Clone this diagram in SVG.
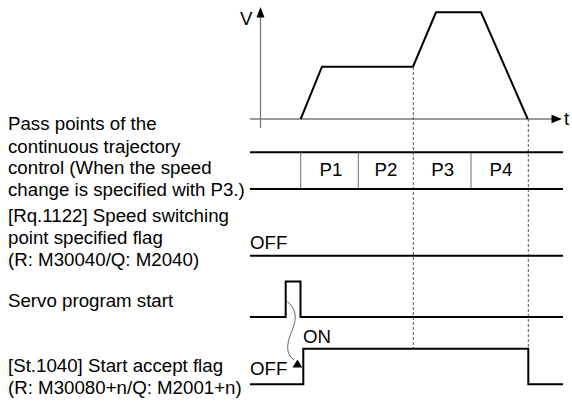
<svg xmlns="http://www.w3.org/2000/svg" width="572" height="408" viewBox="0 0 572 408">
<style>
text{font-family:"Liberation Sans",Arial,sans-serif;font-size:18.7px;fill:#000}
.sig{fill:none;stroke:#000;stroke-width:2}
.axis{fill:none;stroke:#7a7a7a;stroke-width:1.3}
.div{stroke:#6e6e6e;stroke-width:1}
.dash{stroke:#555;stroke-width:1;stroke-dasharray:3,2;fill:none}
.mid{text-anchor:middle}
</style>
<rect width="572" height="408" fill="#fff"/>
<g id="speed-graph">
<line class="axis" x1="260.5" y1="14" x2="260.5" y2="128"/>
<polygon points="260.5,7 256.5,17.5 264.5,17.5" fill="#000"/>
<line class="axis" x1="250" y1="119" x2="553" y2="119"/>
<polygon points="562,119 551.5,114.8 551.5,123.2" fill="#000"/>
<text x="240" y="25">V</text>
<text x="564" y="124.5">t</text>
<polyline class="sig" points="300.7,119 322,66.7 413,66.7 436,12.3 481,12.3 527.7,119"/>
</g>
<g id="dashed-guides">
<line class="dash" x1="413.3" y1="67" x2="413.3" y2="348"/>
<line class="dash" x1="528.3" y1="119" x2="528.3" y2="348"/>
</g>
<g id="pass-points">
<text x="8" y="130">Pass points of the</text>
<text x="8" y="152.5">continuous trajectory</text>
<text x="8" y="174">control (When the speed</text>
<text x="8" y="196">change is specified with P3.)</text>
<line class="div" x1="300.7" y1="152" x2="300.7" y2="189"/>
<line class="div" x1="358.3" y1="152" x2="358.3" y2="189"/>
<line class="div" x1="471" y1="152" x2="471" y2="189"/>
<line class="sig" x1="250" y1="152.3" x2="563" y2="152.3"/>
<line class="sig" x1="250" y1="189" x2="563" y2="189"/>
<text class="mid" x="331" y="175.5">P1</text>
<text class="mid" x="386" y="175.5">P2</text>
<text class="mid" x="442.7" y="175.5">P3</text>
<text class="mid" x="501" y="175.5">P4</text>
</g>
<g id="speed-switching-flag">
<text x="8" y="221.5">[Rq.1122] Speed switching</text>
<text x="8" y="243.5">point specified flag</text>
<text x="8" y="265.5">(R: M30040/Q: M2040)</text>
<text x="250" y="249">OFF</text>
<line class="sig" x1="250" y1="255.7" x2="563" y2="255.7"/>
</g>
<g id="servo-program-start">
<text x="8" y="307">Servo program start</text>
<polyline class="sig" points="250,317 285.7,317 285.7,281.5 300.5,281.5 300.5,317 563,317"/>
</g>
<g id="start-accept-flag">
<text x="8" y="371.5">[St.1040] Start accept flag</text>
<text x="8" y="393.5">(R: M30080+n/Q: M2001+n)</text>
<text x="250" y="375">OFF</text>
<text x="303" y="343">ON</text>
<polyline class="sig" points="250,384.3 303.3,384.3 303.3,348.7 528.3,348.7 528.3,384.3 563,384.3"/>
</g>
<g id="connectors">
<path d="M287.3,301.7 C296,308 297,318 293,328 C289,338 285,348 290,356 L294,360" fill="none" stroke="#555" stroke-width="0.9"/>
<polygon points="297.5,359.5 292.5,367.5 302.3,367.5" fill="#000"/>
</g>
</svg>
